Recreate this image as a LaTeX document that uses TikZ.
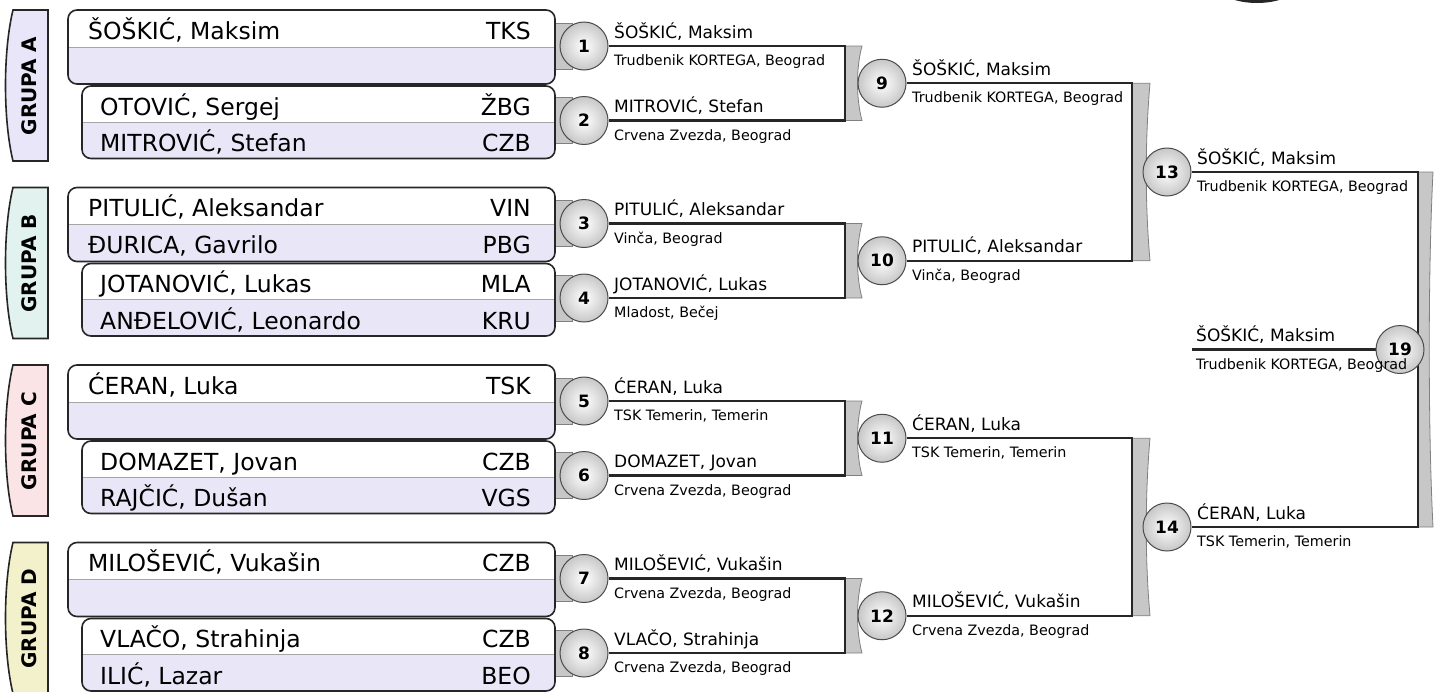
\documentclass[tikz,border=0pt]{standalone}
\usepackage{fontspec}
\setmainfont{DejaVu Sans}
\usepackage{tikz}
\usetikzlibrary{backgrounds}
\definecolor{rowlav}{HTML}{E9E7F7}
\definecolor{grpA}{HTML}{E8E6F8}
\definecolor{grpB}{HTML}{E2F2EE}
\definecolor{grpC}{HTML}{FBE4E6}
\definecolor{grpD}{HTML}{F3F1CB}

\begin{document}
\begin{tikzpicture}[
  x=1pt, y=-1pt,
  grptab/.style={draw=black!85, line width=1.6pt},
  grptxt/.style={rotate=90, font=\bfseries\fontsize{20}{22}\selectfont},
  pbox/.style={draw=black!85, line width=1.6pt, rounded corners=9pt},
  sep/.style={draw=black!35, line width=0.8pt},
  ply/.style={anchor=base west, inner sep=0pt, font=\fontsize{23.5}{26}\selectfont},
  kod/.style={anchor=base east, inner sep=0pt, font=\fontsize{23.5}{26}\selectfont},
  mtc/.style={circle, minimum size=48pt, inner sep=0pt, draw=black!70, line width=1pt,
    inner color=white, outer color=black!22, font=\bfseries\fontsize{17}{19}\selectfont},
  win/.style={anchor=base west, inner sep=0pt, font=\fontsize{17}{19}\selectfont},
  klub/.style={anchor=base west, inner sep=0pt, font=\fontsize{14.3}{16}\selectfont},
  tab/.style={fill=black!22, draw=black!50, line width=0.8pt},
  conn/.style={draw=black!85, line width=2.2pt}]
\useasboundingbox (0,0) rectangle (1440,691);

% edge of the logo at the top
\begin{scope}
  \clip (0,0) rectangle (1440,691);
  \fill[black!85] (1257,-28) ellipse [x radius=52, y radius=31];
\end{scope}

% groups with their player boxes
\foreach \lab/\col [count=\k from 0] in {{GRUPA A}/grpA, {GRUPA B}/grpB, {GRUPA C}/grpC, {GRUPA D}/grpD} {
  \pgfmathsetmacro\yo{10+177.5*\k}
  \filldraw[grptab, fill=\col] (13,\yo) -- (48,\yo) -- (48,\yo+151) -- (13,\yo+151)
    .. controls (3,\yo+110) and (3,\yo+41) .. (13,\yo) -- cycle;
  \node[grptxt] (g\k) at (29,\yo+76) {\lab};
  \foreach \xl/\ta/\tb in {68/0/74, 82/76/148.5} {
    \fill[white, rounded corners=9pt] (\xl,\yo+\ta) rectangle (555,\yo+\tb);
    \begin{scope}
      \clip (0,{\yo+(\ta+\tb)/2}) rectangle (600,\yo+\tb+5);
      \fill[rowlav, rounded corners=9pt] (\xl,\yo+\ta) rectangle (555,\yo+\tb);
    \end{scope}
    \draw[sep] (\xl,{\yo+(\ta+\tb)/2}) -- (555,{\yo+(\ta+\tb)/2});
    \draw[pbox] (\xl,\yo+\ta) rectangle (555,\yo+\tb);
  }
}

% players
\foreach \j/\nm/\kd in {0/{ŠOŠKIĆ, Maksim}/TKS, 2/{OTOVIĆ, Sergej}/ŽBG, 3/{MITROVIĆ, Stefan}/CZB,
  4/{PITULIĆ, Aleksandar}/VIN, 5/{ĐURICA, Gavrilo}/PBG, 6/{JOTANOVIĆ, Lukas}/MLA, 7/{ANĐELOVIĆ, Leonardo}/KRU,
  8/{ĆERAN, Luka}/TSK, 10/{DOMAZET, Jovan}/CZB, 11/{RAJČIĆ, Dušan}/VGS,
  12/{MILOŠEVIĆ, Vukašin}/CZB, 14/{VLAČO, Strahinja}/CZB, 15/{ILIĆ, Lazar}/BEO} {
  \pgfmathtruncatemacro\p{mod(\j,4)}
  \pgfmathtruncatemacro\q{int(\j/4)}
  \pgfmathsetmacro\yb{10+177.5*\q+{29,66,105,141.5}[\p]}
  \pgfmathsetmacro\xa{\p<2 ? 88 : 100}
  \node[ply] (n\j) at (\xa,\yb) {\nm};
  \node[kod] (c\j) at (531,\yb) {\kd};
}

% matches
\foreach \k in {0,...,3} {
  \pgfmathtruncatemacro\ma{2*\k+1}
  \pgfmathtruncatemacro\mb{2*\k+2}
  \pgfmathtruncatemacro\mc{9+\k}
  \node[mtc] (m\ma) at (584,46+177.5*\k) {\ma};
  \node[mtc] (m\mb) at (584,120.5+177.5*\k) {\mb};
  \node[mtc] (m\mc) at (882,83.25+177.5*\k) {\mc};
  \coordinate (b\mc) at (845,83.25+177.5*\k);
}
\node[mtc] (m13) at (1167,172) {13};
\node[mtc] (m14) at (1167,527) {14};
\coordinate (b13) at (1132,172);
\coordinate (b14) at (1132,527);
\node[mtc] (m19) at (1400,349.5) {19};
\coordinate (b19) at (1418,349.5);
\coordinate (f19) at (1192,349.5);

\begin{scope}[on background layer]
  \fill[white] (0,0) rectangle (1440,691);
  \foreach \k in {0,...,3} {
    \pgfmathsetmacro\ya{46+177.5*\k}
    \pgfmathsetmacro\yb{120.5+177.5*\k}
    \path[tab] (550,\ya-23) rectangle (572,\ya+23);
    \path[tab] (550,\yb-23) rectangle (572,\yb+23);
    \path[tab] (845,\ya) -- (862,\ya) .. controls (856,\ya+22) and (856,\yb-22) .. (862,\yb) -- (845,\yb) -- cycle;
  }
  \path[tab] (1132,83.25) -- (1150,83.25) .. controls (1145,140) and (1145,205) .. (1150,260.75) -- (1132,260.75) -- cycle;
  \path[tab] (1132,438.25) -- (1150,438.25) .. controls (1145,495) and (1145,560) .. (1150,615.75) -- (1132,615.75) -- cycle;
  \path[tab] (1418,172) -- (1433,172) .. controls (1428,270) and (1428,430) .. (1433,527) -- (1418,527) -- cycle;
  \foreach \a/\b/\c in {1/2/9, 3/4/10, 5/6/11, 7/8/12, 9/10/13, 11/12/14, 13/14/19}
    \draw[conn] (m\a.east) -| (b\c) |- (m\b.east);
  \draw[conn] (f19) -- (m19);
\end{scope}

% winners
\foreach \m/\nm/\kl in {
  1/{ŠOŠKIĆ, Maksim}/{Trudbenik KORTEGA, Beograd},
  2/{MITROVIĆ, Stefan}/{Crvena Zvezda, Beograd},
  3/{PITULIĆ, Aleksandar}/{Vinča, Beograd},
  4/{JOTANOVIĆ, Lukas}/{Mladost, Bečej},
  5/{ĆERAN, Luka}/{TSK Temerin, Temerin},
  6/{DOMAZET, Jovan}/{Crvena Zvezda, Beograd},
  7/{MILOŠEVIĆ, Vukašin}/{Crvena Zvezda, Beograd},
  8/{VLAČO, Strahinja}/{Crvena Zvezda, Beograd},
  9/{ŠOŠKIĆ, Maksim}/{Trudbenik KORTEGA, Beograd},
  10/{PITULIĆ, Aleksandar}/{Vinča, Beograd},
  11/{ĆERAN, Luka}/{TSK Temerin, Temerin},
  12/{MILOŠEVIĆ, Vukašin}/{Crvena Zvezda, Beograd},
  13/{ŠOŠKIĆ, Maksim}/{Trudbenik KORTEGA, Beograd},
  14/{ĆERAN, Luka}/{TSK Temerin, Temerin}} {
  \node[win] (wn\m) at ([xshift=30pt,yshift=8pt]m\m.center) {\nm};
  \node[klub] (wk\m) at ([xshift=30pt,yshift=-19.5pt]m\m.center) {\kl};
}
\node[win] (wn19) at ([xshift=4pt,yshift=8pt]f19) {ŠOŠKIĆ, Maksim};
\node[klub] (wk19) at ([xshift=4pt,yshift=-19.5pt]f19) {Trudbenik KORTEGA, Beograd};
\end{tikzpicture}
\end{document}
